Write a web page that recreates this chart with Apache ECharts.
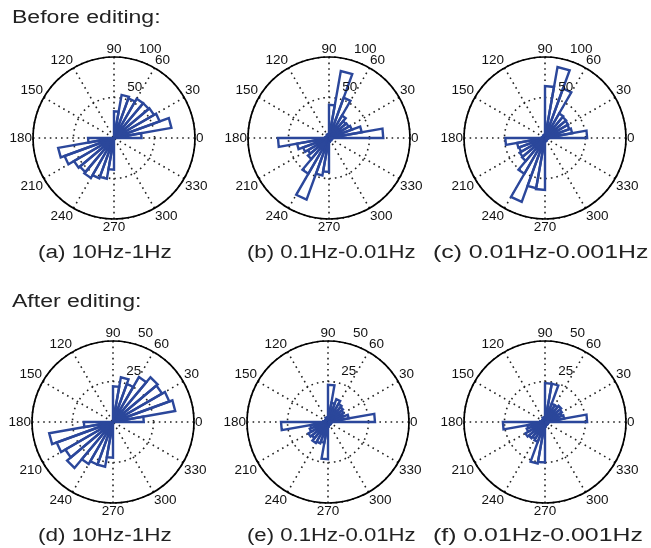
<!DOCTYPE html>
<html>
<head>
<meta charset="utf-8">
<script src="https://cdn.jsdelivr.net/npm/echarts@6/dist/echarts.min.js"></script>
<style>
html, body { margin: 0; padding: 0; background: #fff; }
#chart { width: 651px; height: 548px; }
</style>
</head>
<body>
<div id="chart"></div>
<script>
// rose bins, 10 degrees wide, start angle of each bin
const binStarts = [0, 10, 20, 30, 40, 50, 60, 70, 80, 90, 100, 110, 120, 130, 140, 150, 160, 170,
    180, 190, 200, 210, 220, 230, 240, 250, 260, 270, 280, 290, 300, 310, 320, 330, 340, 350];
const binWidth = 10;

// before editing (outer ring = 100)
const roseA = [34, 72, 60, 57, 56, 56, 52, 54, 33, 0, 0, 0, 0, 0, 0, 0, 0, 0,
    32, 70, 65, 57, 55, 57, 53, 51, 39, 0, 0, 0, 0, 0, 0, 0, 0, 0];
const roseB = [67, 41, 30, 28, 27, 32, 53, 84, 41, 4, 3, 5, 3, 2, 3, 4, 3, 5,
    63, 40, 34, 30, 34, 51, 81, 47, 42, 5, 3, 4, 2, 3, 3, 4, 3, 4];
const roseC = [52, 34, 32, 33, 34, 35, 65, 89, 64, 4, 3, 4, 3, 2, 3, 3, 3, 4,
    49, 35, 34, 36, 37, 51, 84, 63, 64, 4, 3, 4, 2, 3, 3, 3, 3, 4];
// after editing (outer ring = 50)
const roseD = [19, 39, 37, 35, 36, 32, 25, 28, 22, 0, 0, 0, 0, 0, 0, 0, 0, 0,
    18, 40, 37, 34, 37, 30, 28, 28, 22, 0, 0, 0, 0, 0, 0, 0, 0, 0];
const roseE = [29, 13, 10, 11, 12, 13, 15, 12, 23, 2, 2, 3, 2, 1, 2, 2, 2, 3,
    29, 11, 12, 14, 13, 15, 14, 13, 23, 3, 2, 2, 1, 2, 2, 2, 2, 2];
const roseF = [26, 12, 11, 12, 13, 12, 12, 24, 24, 2, 2, 3, 2, 1, 2, 2, 2, 3,
    26, 11, 12, 14, 13, 12, 13, 26, 25, 3, 2, 2, 1, 2, 2, 2, 2, 2];

const angleMax = 360;
const angleStep = 30;
const radiusMaxTop = 100;
const radiusTicksTop = [50, 100];
const radiusMaxBottom = 50;
const radiusTicksBottom = [25, 50];

const captions = ['(a) 10Hz-1Hz', '(b) 0.1Hz-0.01Hz', '(c) 0.01Hz-0.001Hz',
    '(d) 10Hz-1Hz', '(e) 0.1Hz-0.01Hz', '(f) 0.01Hz-0.001Hz'];
const rowTitles = ['Before editing:', 'After editing:'];

const plots = [
    {data: roseA, max: radiusMaxTop, ticks: radiusTicksTop, center: [114, 138]},
    {data: roseB, max: radiusMaxTop, ticks: radiusTicksTop, center: [329, 138]},
    {data: roseC, max: radiusMaxTop, ticks: radiusTicksTop, center: [545, 138]},
    {data: roseD, max: radiusMaxBottom, ticks: radiusTicksBottom, center: [113, 422]},
    {data: roseE, max: radiusMaxBottom, ticks: radiusTicksBottom, center: [328, 422]},
    {data: roseF, max: radiusMaxBottom, ticks: radiusTicksBottom, center: [545, 422]}
];
const captionX = [38, 247, 433, 38, 247, 433];
const captionY = [253, 253, 253, 536, 536, 536];
const captionScale = [1.25, 1.23, 1.38, 1.25, 1.23, 1.38];

const blue = '#2b479b';
const dotted = {color: '#222', type: [1.6, 4], width: 1.6};
const labelFont = 'Liberation Sans';

// MATLAB rose style: each bin is a triangle from the origin
function renderRose(params, api) {
    let r = api.value(0);
    if (!r) return null;
    let a = api.value(1);
    let o = api.coord([0, a]);
    let p1 = api.coord([r, a]);
    let p2 = api.coord([r, a + binWidth]);
    return {
        type: 'polygon',
        shape: {points: [o, p1, p2]},
        style: {fill: 'none', stroke: blue, lineWidth: 2.4}
    };
}

function renderRadiusLabel(params, api) {
    let t = api.value(0);
    let max = api.value(1);
    let p = api.coord([t + max * 0.06, 73]);
    return {
        type: 'text',
        x: p[0],
        y: p[1],
        style: {text: String(t), fill: '#111', font: '13.5px "' + labelFont + '"', align: 'left', verticalAlign: 'bottom'}
    };
}

let polar = [], angleAxis = [], radiusAxis = [], series = [];
plots.forEach(function (pl, i) {
    polar.push({center: pl.center, radius: 81});
    angleAxis.push({
        polarIndex: i,
        type: 'value',
        min: 0,
        max: angleMax,
        interval: angleStep,
        startAngle: 0,
        clockwise: false,
        axisLine: {lineStyle: {color: '#000', width: 1.7}},
        axisTick: {show: false},
        axisLabel: {
            margin: 1,
            color: '#111',
            fontSize: 13.5,
            fontFamily: labelFont,
            formatter: function (v) { return v === angleMax ? '' : v; }
        },
        splitLine: {lineStyle: dotted}
    });
    radiusAxis.push({
        polarIndex: i,
        type: 'value',
        min: 0,
        max: pl.max,
        interval: pl.ticks[0],
        axisLine: {show: false},
        axisTick: {show: false},
        axisLabel: {show: false},
        splitLine: {lineStyle: dotted}
    });
    series.push({
        type: 'custom',
        coordinateSystem: 'polar',
        polarIndex: i,
        renderItem: renderRose,
        data: binStarts.map(function (a, k) { return [pl.data[k], a]; }),
        z: 5
    });
    series.push({
        type: 'custom',
        coordinateSystem: 'polar',
        polarIndex: i,
        renderItem: renderRadiusLabel,
        data: pl.ticks.map(function (t) { return [t, pl.max]; }),
        z: 6
    });
});

let graphic = [];
rowTitles.forEach(function (t, i) {
    graphic.push({
        type: 'text',
        x: 12,
        y: i === 0 ? 9 : 293,
        scaleX: 1.28,
        style: {text: t, fill: '#222', font: '18px "' + labelFont + '"', align: 'left', verticalAlign: 'top'}
    });
});
captions.forEach(function (t, i) {
    graphic.push({
        type: 'text',
        x: captionX[i],
        y: captionY[i],
        scaleX: captionScale[i],
        style: {text: t, fill: '#222', font: '18px "' + labelFont + '"', align: 'left', verticalAlign: 'middle'}
    });
});

let myChart = echarts.init(document.getElementById('chart'));
myChart.setOption({
    animation: false,
    backgroundColor: '#fff',
    polar: polar,
    angleAxis: angleAxis,
    radiusAxis: radiusAxis,
    series: series,
    graphic: graphic
});
</script>
</body>
</html>
